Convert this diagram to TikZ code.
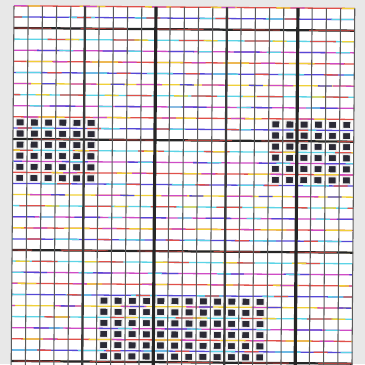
\documentclass[tikz,border=0pt]{standalone}
\usepackage{xcolor}
\usepackage{tikz}
\definecolor{scanGray}{HTML}{E8E8E8}
\definecolor{chartInk}{HTML}{5A5A5A}
\definecolor{chartHeavy}{HTML}{262626}
\definecolor{stitchDark}{HTML}{2B2A36}
\definecolor{regRed}{HTML}{E0504A}
\definecolor{regBlue}{HTML}{5548D6}
\definecolor{regYellow}{HTML}{F0D038}
\definecolor{regCyan}{HTML}{5CD4E6}
\definecolor{regMagenta}{HTML}{CF4CC6}
\newcommand{\regcol}[1]{\ifcase#1 regRed\or regBlue\or regYellow\or regCyan\or regMagenta\fi}

\begin{document}
\begin{tikzpicture}[x=0.03cm,y=-0.03cm,
    gridline/.style={line width=1.1pt},
    stitch/.style={fill=stitchDark, draw=white!85!gray, line width=0.9pt}]
  \fill[scanGray] (0,0) rectangle (365,364);
  \clip (0,0) rectangle (365,364);
  \begin{scope}[rotate around={-0.45:(14,6)}]
    \fill[white] (14,5.8) rectangle (355,372);
    % coloured row lines (registration of the scan)
    \foreach \j in {0,...,32} {
      \pgfmathtruncatemacro\ka{mod(\j,5)}
      \pgfmathtruncatemacro\kb{mod(\j+2,5)}
      \pgfmathtruncatemacro\kc{mod(\j+4,5)}
      \edef\ca{\regcol{\ka}}\edef\cb{\regcol{\kb}}\edef\cc{\regcol{\kc}}
      \pgfmathsetmacro\yy{5.8+11.1*\j}
      \draw[gridline, \ca] (14,\yy) -- (355,\yy);
      \draw[gridline, \cb, dash pattern=on 22pt off 34pt, dash phase=\j*9pt] (14,\yy) -- (355,\yy);
      \draw[gridline, \cc, dash pattern=on 12pt off 47pt, dash phase=\j*5pt] (14,\yy) -- (355,\yy);
    }
    % heavy rows every ten
    \foreach \j in {2,12,22,32} {
      \pgfmathsetmacro\yy{5.8+11.1*\j}
      \draw[line width=1.9pt, chartHeavy] (14,\yy) -- (355,\yy);
      \draw[line width=0.8pt, regRed!80!black, dash pattern=on 40pt off 25pt, dash phase=\j*4pt] (14,\yy) -- (355,\yy);
    }
    % columns
    \foreach \i in {0,...,24}
      \draw[line width=0.9pt, chartInk] (14+14.2*\i,5.8) -- (14+14.2*\i,372);
    \foreach \i in {5,15}
      \draw[line width=2pt, chartHeavy!90] (14+14.2*\i,5.8) -- (14+14.2*\i,372);
    \foreach \i in {10,20}
      \draw[line width=2.7pt, chartHeavy] (14+14.2*\i,5.8) -- (14+14.2*\i,372);
    % stitched blocks
    \foreach \ia/\ja/\ib/\jb in {0/10/5/15, 18/10/23/15, 6/26/17/31}
      \foreach \i in {\ia,...,\ib}
        \foreach \j in {\ja,...,\jb}
          \filldraw[stitch] (14+14.2*\i+3.1,5.8+11.1*\j+2.0) rectangle ++(8,7.1);
  \end{scope}
\end{tikzpicture}
\end{document}
